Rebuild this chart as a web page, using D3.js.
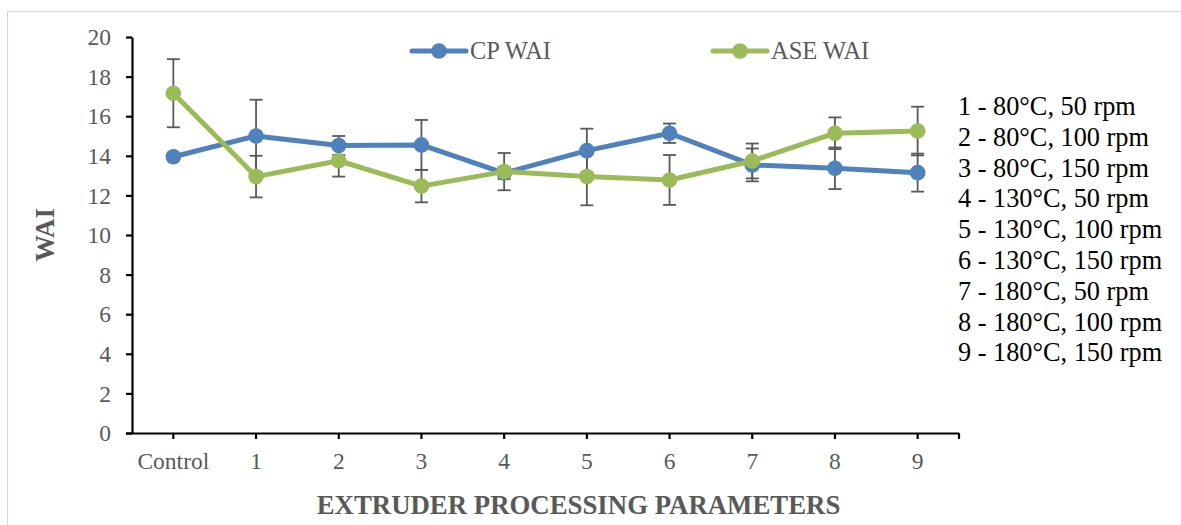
<!DOCTYPE html>
<html>
<head>
<meta charset="utf-8">
<script src="https://cdn.jsdelivr.net/npm/d3@7"></script>
<style>
  html, body { margin: 0; padding: 0; background: #fff; }
  svg { display: block; }
</style>
</head>
<body>
<div id="chart"></div>
<script>
const categories = ["Control", "1", "2", "3", "4", "5", "6", "7", "8", "9"];
const cpWAI  = [13.95, 15.00, 14.52, 14.55, 13.13, 14.26, 15.14, 13.54, 13.37, 13.15];
const cpErr  = [0.00, 1.83, 0.48, 1.26, 0.30, 1.11, 0.49, 0.83, 1.05, 0.96];
const aseWAI = [17.16, 12.95, 13.75, 12.47, 13.20, 12.95, 12.78, 13.74, 15.14, 15.25];
const aseErr = [1.72, 1.05, 0.80, 0.82, 0.94, 1.45, 1.26, 0.88, 0.80, 1.23];
const yTicks = [0, 2, 4, 6, 8, 10, 12, 14, 16, 18, 20];
const seriesNames = ["CP WAI", "ASE WAI"];
const notes = [
  "1 - 80°C, 50 rpm",
  "2 - 80°C, 100 rpm",
  "3 - 80°C, 150 rpm",
  "4 - 130°C, 50 rpm",
  "5 - 130°C, 100 rpm",
  "6 - 130°C, 150 rpm",
  "7 - 180°C, 50 rpm",
  "8 - 180°C, 100 rpm",
  "9 - 180°C, 150 rpm"
];
const xTitle = "EXTRUDER PROCESSING PARAMETERS";
const yTitle = "WAI";

const W = 1181, H = 525;
const colors = ["#4F81BD", "#9BBB59"];
const font = "'Liberation Serif', 'Times New Roman', serif";
const grey = "#595959";

const svg = d3.select("#chart").append("svg").attr("width", W).attr("height", H);

// outer chart border
svg.append("rect").attr("x", 7.5).attr("y", 11.5).attr("width", 1190).attr("height", 530)
  .attr("fill", "none").attr("stroke", "#D9D9D9").attr("stroke-width", 1.2);

const x = d3.scaleBand().domain(categories).range([132, 959]).padding(0);
const cx = d => x(d) + x.bandwidth() / 2;
const y = d3.scaleLinear().domain([0, 20]).range([433, 37]);

// Y axis
const yAxis = svg.append("g").attr("transform", "translate(132,0)")
  .call(d3.axisLeft(y).tickValues(yTicks).tickSize(6).tickSizeOuter(0).tickPadding(15));
yAxis.select(".domain").attr("stroke", "#000").attr("stroke-width", 2.2);
yAxis.selectAll(".tick line").attr("stroke", "#000").attr("stroke-width", 2.2);
yAxis.selectAll(".tick text").attr("font-family", font).attr("font-size", 23.5)
  .attr("fill", grey).attr("dy", "0.33em");

// X axis
const xAxis = svg.append("g").attr("transform", "translate(0,433)")
  .call(d3.axisBottom(x).tickSize(6).tickSizeOuter(0).tickPadding(14));
xAxis.select(".domain").attr("stroke", "#000").attr("stroke-width", 2.2)
  .attr("d", `M126,0.5H${x.range()[1]}`);
xAxis.selectAll(".tick line").attr("stroke", "#000").attr("stroke-width", 2.2);
xAxis.selectAll(".tick text").attr("font-family", font).attr("font-size", 23.5)
  .attr("fill", grey).attr("dy", "0.7em");
xAxis.append("line").attr("x1", x.range()[1]).attr("x2", x.range()[1])
  .attr("y1", 0).attr("y2", 6).attr("stroke", "#000").attr("stroke-width", 2.2);

// Error bars (drawn first)
const seriesVals = [cpWAI, aseWAI];
const seriesErr = [cpErr, aseErr];
const eb = svg.append("g");
seriesVals.forEach((vals, s) => {
  vals.forEach((v, i) => {
    const e = seriesErr[s][i];
    if (!e) return;
    const px = cx(categories[i]);
    const y1 = y(v + e), y2 = y(v - e);
    eb.append("line").attr("x1", px).attr("x2", px).attr("y1", y1).attr("y2", y2)
      .attr("stroke", grey).attr("stroke-width", 1.8);
    [y1, y2].forEach(yy => eb.append("line").attr("x1", px - 6.5).attr("x2", px + 6.5)
      .attr("y1", yy).attr("y2", yy).attr("stroke", grey).attr("stroke-width", 1.8));
  });
});

// Lines and markers
const line = d3.line().x((d, i) => cx(categories[i])).y(d => y(d));
seriesVals.forEach((vals, s) => {
  const g = svg.append("g");
  g.append("path").datum(vals).attr("d", line).attr("fill", "none")
    .attr("stroke", colors[s]).attr("stroke-width", 5).attr("stroke-linejoin", "round")
    .attr("stroke-linecap", "round");
  g.selectAll("circle").data(vals).enter().append("circle")
    .attr("cx", (d, i) => cx(categories[i])).attr("cy", d => y(d)).attr("r", 7.8)
    .attr("fill", colors[s]);
});

// Legend
const legX = [412, 713];
seriesNames.forEach((name, s) => {
  const g = svg.append("g").attr("transform", `translate(${legX[s]},51)`);
  g.append("line").attr("x1", 0).attr("x2", 54).attr("y1", 0).attr("y2", 0)
    .attr("stroke", colors[s]).attr("stroke-width", 5).attr("stroke-linecap", "round");
  g.append("circle").attr("cx", 27).attr("cy", 0).attr("r", 7.8).attr("fill", colors[s]);
  g.append("text").attr("x", 58).attr("y", 0).attr("dy", "0.33em")
    .attr("font-family", font).attr("font-size", 24.5).attr("fill", grey).text(name);
});

// Right notes
svg.append("g").selectAll("text").data(notes).enter().append("text")
  .attr("x", 958).attr("y", (d, i) => 115 + i * 30.8)
  .attr("font-family", font).attr("font-size", 26.3).attr("fill", "#000").text(d => d);

// Axis titles
svg.append("text").attr("x", (x.range()[0] + x.range()[1]) / 2 + 33).attr("y", 514)
  .attr("text-anchor", "middle").attr("font-family", font).attr("font-size", 26.8)
  .attr("font-weight", "bold").attr("fill", grey).text(xTitle);
svg.append("text").attr("transform", "translate(54,235) rotate(-90)")
  .attr("text-anchor", "middle").attr("font-family", font).attr("font-size", 26.8)
  .attr("font-weight", "bold").attr("fill", grey).text(yTitle);
</script>
</body>
</html>
